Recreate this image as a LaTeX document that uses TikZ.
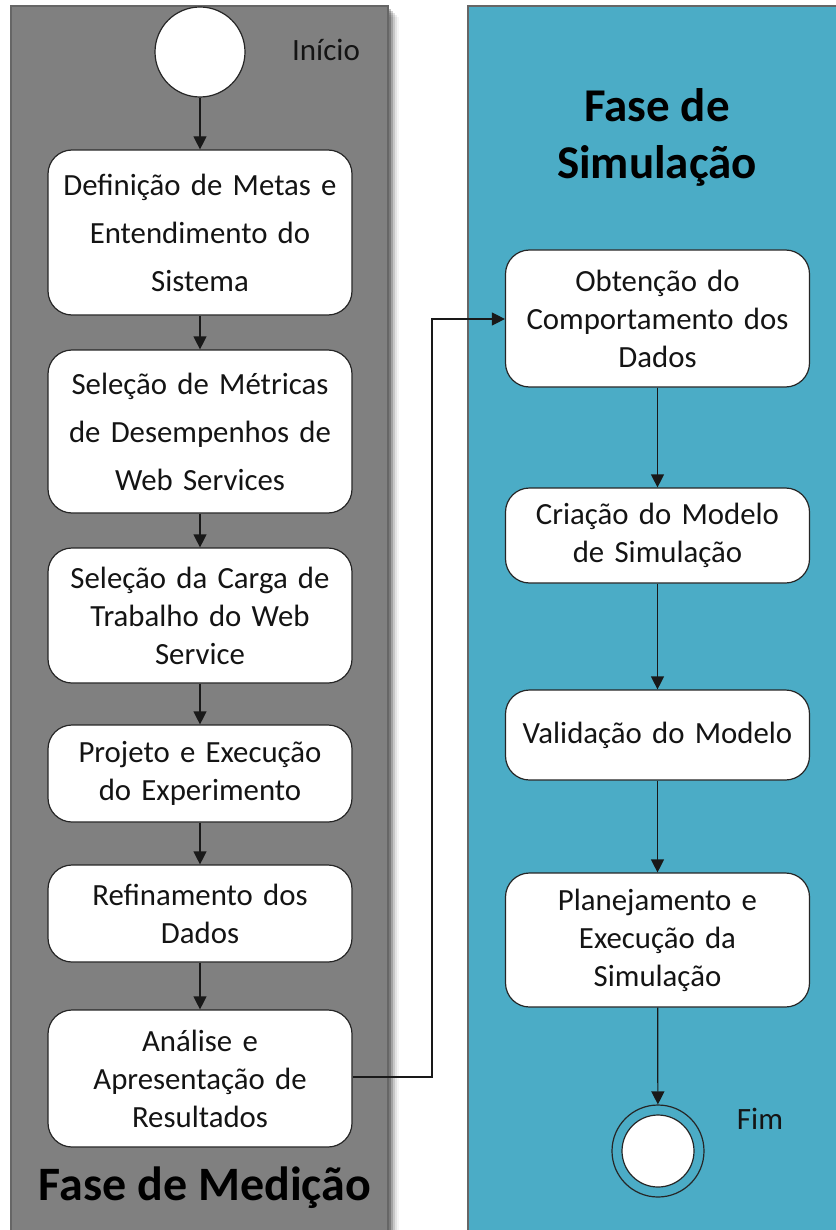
\documentclass[tikz,border=0pt]{standalone}
\usepackage{fontspec}
\setmainfont{Carlito}
\usetikzlibrary{arrows.meta}
\definecolor{panelgray}{HTML}{808080}
\definecolor{panelblue}{HTML}{4BACC6}
\definecolor{txt}{HTML}{141414}
\tikzset{
  stepbox/.style={draw=black!85, line width=1.2pt, fill=white, rounded corners=24pt,
    minimum width=304pt, text width=294pt, align=center, text=txt,
    font=\fontsize{30.8}{38}\selectfont, inner sep=0pt},
  wide/.style={font=\fontsize{30.8}{48}\selectfont},
  flow/.style={draw=black!90, line width=1.2pt, -{Triangle[length=13pt,width=13pt]}},
  title/.style={font=\fontsize{47}{57}\selectfont\bfseries, text=black, align=center},
  lbl/.style={font=\fontsize{31}{38}\selectfont, text=txt},
  panel/.style={draw=black!60, line width=1.2pt}
}
\begin{document}
\begin{tikzpicture}[x=1pt,y=-1pt]
\useasboundingbox (0,0) rectangle (835,1230);
\fill[white] (0,0) rectangle (835,1230);
% shadows
\foreach \i/\o in {1/0.35,3/0.25,5/0.18,7/0.12,9/0.07,11/0.04}
  \fill[black,opacity=\o] (388,6+\i) rectangle (388+\i,1240);
% panels
\path[panel, fill=panelgray] (11,6) rectangle (388,1240);
\path[panel, fill=panelblue] (468,6) rectangle (850,1240);
% titles
\node[title] (tsim) at (657,137) {Fase de\\Simulação};
\node[title, font=\fontsize{48}{57}\selectfont\bfseries] (tmed) at (205,1188) {Fase de Medição};
% start
\node[circle, draw=black!85, line width=1.2pt, fill=white, minimum size=90pt, inner sep=0pt] (start) at (200,52) {};
\node[lbl] (lstart) at (326,50) {Início};
% left boxes
\node[stepbox, wide, minimum height=165pt] (b1) at (200,232.5) {Definição de Metas e\\Entendimento do\\Sistema};
\node[stepbox, wide, minimum height=163pt] (b2) at (200,431.5) {Seleção de Métricas\\de Desempenhos de\\Web Services};
\node[stepbox, minimum height=135pt] (b3) at (200,615.5) {Seleção da Carga de\\Trabalho do Web\\Service};
\node[stepbox, minimum height=97pt] (b4) at (200,773.5) {Projeto e Execução\\do Experimento};
\node[stepbox, minimum height=97pt] (b5) at (200,913.5) {Refinamento dos\\Dados};
\node[stepbox, minimum height=137pt] (b6) at (200,1078.5) {Análise e\\Apresentação de\\Resultados};
% right boxes
\node[stepbox, minimum height=137pt] (r1) at (657.5,318.5) {Obtenção do\\Comportamento dos\\Dados};
\node[stepbox, minimum height=95pt] (r2) at (657.5,535.5) {Criação do Modelo\\de Simulação};
\node[stepbox, minimum height=90pt] (r3) at (657.5,735) {Validação do Modelo};
\node[stepbox, minimum height=134pt] (r4) at (657.5,940) {Planejamento e\\Execução da\\Simulação};
% end
\node[circle, draw=black!85, line width=1.2pt, fill=panelblue, minimum size=92pt, inner sep=0pt] (fim) at (658,1151) {};
\node[circle, draw=black!85, line width=1.2pt, fill=white, minimum size=72pt, inner sep=0pt] (fimin) at (658,1151) {};
\node[lbl] (lfim) at (760,1119) {Fim};
% connectors
\draw[flow] (start) -- (b1);
\draw[flow] (b1) -- (b2);
\draw[flow] (b2) -- (b3);
\draw[flow] (b3) -- (b4);
\draw[flow] (b4) -- (b5);
\draw[flow] (b5) -- (b6);
\coordinate (j1) at (432,1077);
\coordinate (j2) at (432,319);
\draw[flow] (b6.east |- j1) -- (j1) -- (j2) -- (r1.west |- j2);
\draw[flow] (r1) -- (r2);
\draw[flow] (r2) -- (r3);
\draw[flow] (r3) -- (r4);
\draw[flow] (r4) -- (fim);
\end{tikzpicture}
\end{document}
